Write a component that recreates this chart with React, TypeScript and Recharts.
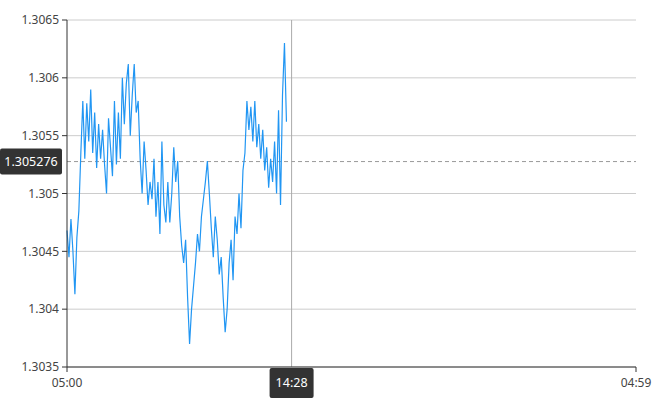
import React from "react";
import {
  LineChart,
  Line,
  XAxis,
  YAxis,
  CartesianGrid,
  ReferenceLine,
} from "recharts";

// minutes after 05:00, one sample every 5 minutes
const STEP_MINUTES = 5;
const prices = [
  1.30468, 1.30445, 1.30478, 1.3045, 1.30413, 1.30462, 1.30485, 1.30535,
  1.3058, 1.3053, 1.30578, 1.30545, 1.3059, 1.30535, 1.3057, 1.30522,
  1.3056, 1.3053, 1.30555, 1.30525, 1.305, 1.30565, 1.3054, 1.30515,
  1.3058, 1.30525, 1.3057, 1.3053, 1.306, 1.3056, 1.30595, 1.30612,
  1.3055, 1.30585, 1.30612, 1.3057, 1.3058, 1.3053, 1.305, 1.30545,
  1.3052, 1.3049, 1.3051, 1.30495, 1.3053, 1.3048, 1.3051, 1.30465,
  1.30545, 1.3049, 1.30475, 1.3051, 1.30475, 1.305, 1.3054, 1.3051,
  1.30528, 1.3048, 1.30455, 1.3044, 1.3046, 1.3041, 1.3037, 1.304,
  1.3042, 1.3044, 1.30465, 1.3045, 1.3048, 1.30495, 1.3051, 1.30528,
  1.305, 1.3047, 1.30445, 1.3048, 1.3046, 1.3043, 1.30445, 1.3041,
  1.3038, 1.304, 1.3044, 1.3046, 1.30425, 1.3048, 1.30465, 1.305,
  1.3047, 1.3052, 1.30535, 1.3058, 1.30555, 1.30575, 1.30545, 1.3058,
  1.3054, 1.3056, 1.3053, 1.30555, 1.3052, 1.3054, 1.30505, 1.3053,
  1.3051, 1.30545, 1.305, 1.30572, 1.3049, 1.30585, 1.3063, 1.30562,
];

const yTicks = [1.3035, 1.304, 1.3045, 1.305, 1.3055, 1.306, 1.3065];
const xTicks = [0, 1439];
const cursorMinute = 568; // 14:28
const cursorPrice = 1.305276;

const data = prices.map((p, i) => ({ t: i * STEP_MINUTES, price: p }));

const FONT = "'Noto Sans', sans-serif";

const fmtTime = (m: number) => {
  const total = (m + 5 * 60) % (24 * 60);
  const h = Math.floor(total / 60);
  const mm = total % 60;
  return `${String(h).padStart(2, "0")}:${String(mm).padStart(2, "0")}`;
};

const fmtPrice = (v: number) => String(Number(v.toFixed(4)));

const PriceTag = (props: any) => {
  const { viewBox } = props;
  const y = viewBox.y;
  return (
    <g>
      <rect x={0} y={y - 13} width={62} height={26} rx={2} fill="#333" />
      <text
        x={31}
        y={y + 4.5}
        textAnchor="middle"
        fill="#fff"
        fontSize={12.5}
        fontFamily={FONT}
      >
        {cursorPrice.toFixed(6)}
      </text>
    </g>
  );
};

const TimeTag = (props: any) => {
  const { viewBox } = props;
  const x = viewBox.x;
  const bottom = viewBox.y + viewBox.height;
  return (
    <g>
      <rect x={x - 22} y={bottom + 1} width={44} height={30} rx={2} fill="#333" />
      <text
        x={x}
        y={bottom + 20}
        textAnchor="middle"
        fill="#fff"
        fontSize={12.5}
        fontFamily={FONT}
      >
        {fmtTime(cursorMinute)}
      </text>
    </g>
  );
};

export default function App() {
  return (
    <div style={{ position: "absolute", left: 0, top: 0, background: "#fff" }}>
      <LineChart
        width={670}
        height={400}
        data={data}
        margin={{ top: 20, right: 34, left: 0, bottom: 0 }}
      >
        <CartesianGrid vertical={false} stroke="#ccc" />
        <XAxis
          dataKey="t"
          type="number"
          domain={[0, 1439]}
          ticks={xTicks}
          tickFormatter={fmtTime}
          height={33}
          stroke="#333"
          tick={{ fill: "#444", fontSize: 12, fontFamily: FONT }}
          tickSize={5}
          tickMargin={6}
        />
        <YAxis
          type="number"
          domain={[1.3035, 1.3065]}
          ticks={yTicks}
          tickFormatter={fmtPrice}
          width={67}
          stroke="#333"
          tick={{ fill: "#444", fontSize: 12, fontFamily: FONT }}
          tickSize={5}
          tickMargin={3}
          allowDataOverflow
        />
        <ReferenceLine
          y={cursorPrice}
          stroke="#999"
          strokeDasharray="4 3"
          label={{ content: PriceTag }}
        />
        <ReferenceLine
          x={cursorMinute}
          stroke="#aaa"
          label={{ content: TimeTag }}
        />
        <Line
          type="linear"
          dataKey="price"
          stroke="#2196f3"
          strokeWidth={1.2}
          dot={false}
          isAnimationActive={false}
        />
      </LineChart>
    </div>
  );
}
